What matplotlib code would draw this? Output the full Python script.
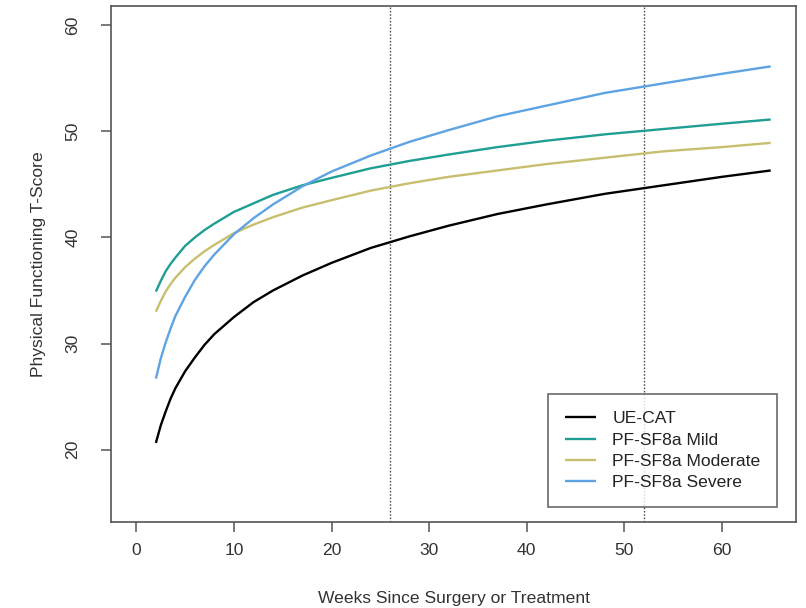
import matplotlib
matplotlib.use("Agg")
import matplotlib.pyplot as plt

weeks = [2, 2.5, 3, 3.5, 4, 5, 6, 7, 8, 10, 12, 14, 17, 20, 24, 28, 32, 37, 42, 48, 54, 60, 65]

ue_cat = [20.65, 22.3, 23.6, 24.8, 25.8, 27.4, 28.7, 29.9, 30.9, 32.5, 33.9, 35.0,
          36.4, 37.6, 39.0, 40.1, 41.1, 42.2, 43.1, 44.1, 44.9, 45.7, 46.3]
pf_mild = [34.9, 35.9, 36.8, 37.5, 38.1, 39.2, 40.0, 40.7, 41.3, 42.4, 43.2, 44.0,
           44.9, 45.6, 46.5, 47.2, 47.8, 48.5, 49.1, 49.7, 50.2, 50.7, 51.1]
pf_moderate = [33.0, 34.0, 34.9, 35.6, 36.2, 37.2, 38.0, 38.7, 39.3, 40.4, 41.2, 41.9,
               42.8, 43.5, 44.4, 45.1, 45.7, 46.3, 46.9, 47.5, 48.1, 48.5, 48.9]
pf_severe = [26.7, 28.6, 30.1, 31.4, 32.6, 34.4, 36.0, 37.3, 38.4, 40.3, 41.8, 43.1,
             44.8, 46.2, 47.7, 49.0, 50.1, 51.4, 52.4, 53.6, 54.5, 55.4, 56.1]

series_labels = ["UE-CAT", "PF-SF8a Mild", "PF-SF8a Moderate", "PF-SF8a Severe"]
series_colors = ["#000000", "#1f9e94", "#c8bf6e", "#5ea3e2"]

ref_weeks = [26, 52]
x_ticks = [0, 10, 20, 30, 40, 50, 60]
y_ticks = [20, 30, 40, 50, 60]

plt.rcParams["font.family"] = ["Liberation Sans", "DejaVu Sans"]
axis_col = "#555555"
fs = 12.6

fig = plt.figure(figsize=(8.06, 6.08), dpi=100)
ax = fig.add_axes([0.1377, 0.1414, 0.85, 0.849])

for vals, lab, col in zip([ue_cat, pf_mild, pf_moderate, pf_severe], series_labels, series_colors):
    ax.plot(weeks, vals, color=col, lw=1.7, label=lab, solid_capstyle="butt")

for w in ref_weeks:
    ax.axvline(w, color="#555555", lw=1.0, ls=(0, (1.2, 1.2)), zorder=1)

# R style 4% padding around (0, 65) and (15, 60)
ax.set_xlim(-2.6, 67.6)
ax.set_ylim(13.2, 61.8)
ax.set_xticks(x_ticks)
ax.set_yticks(y_ticks)
ax.set_yticklabels([str(v) for v in y_ticks], rotation=90, va="center")

for s in ax.spines.values():
    s.set_color(axis_col)
    s.set_linewidth(1.2)
ax.tick_params(colors=axis_col, labelcolor="#333333", labelsize=fs, length=7, width=1.1)
ax.tick_params(axis="x", pad=8)
ax.tick_params(axis="y", pad=15)

ax.set_xlabel("Weeks Since Surgery or Treatment", fontsize=fs, color="#333333", labelpad=24)
ax.set_ylabel("Physical Functioning T-Score", fontsize=fs, color="#333333", labelpad=14)

leg = ax.legend(loc="lower right", bbox_to_anchor=(0.9723, 0.029), fontsize=fs,
                frameon=True, fancybox=False, handlelength=1.8, borderpad=0.95,
                labelspacing=0.35, handletextpad=0.9, borderaxespad=0)
leg.get_frame().set_edgecolor("#444444")
leg.get_frame().set_linewidth(1.2)
for t in leg.get_texts():
    t.set_color("#222222")

fig.savefig("out.png", dpi=100)
